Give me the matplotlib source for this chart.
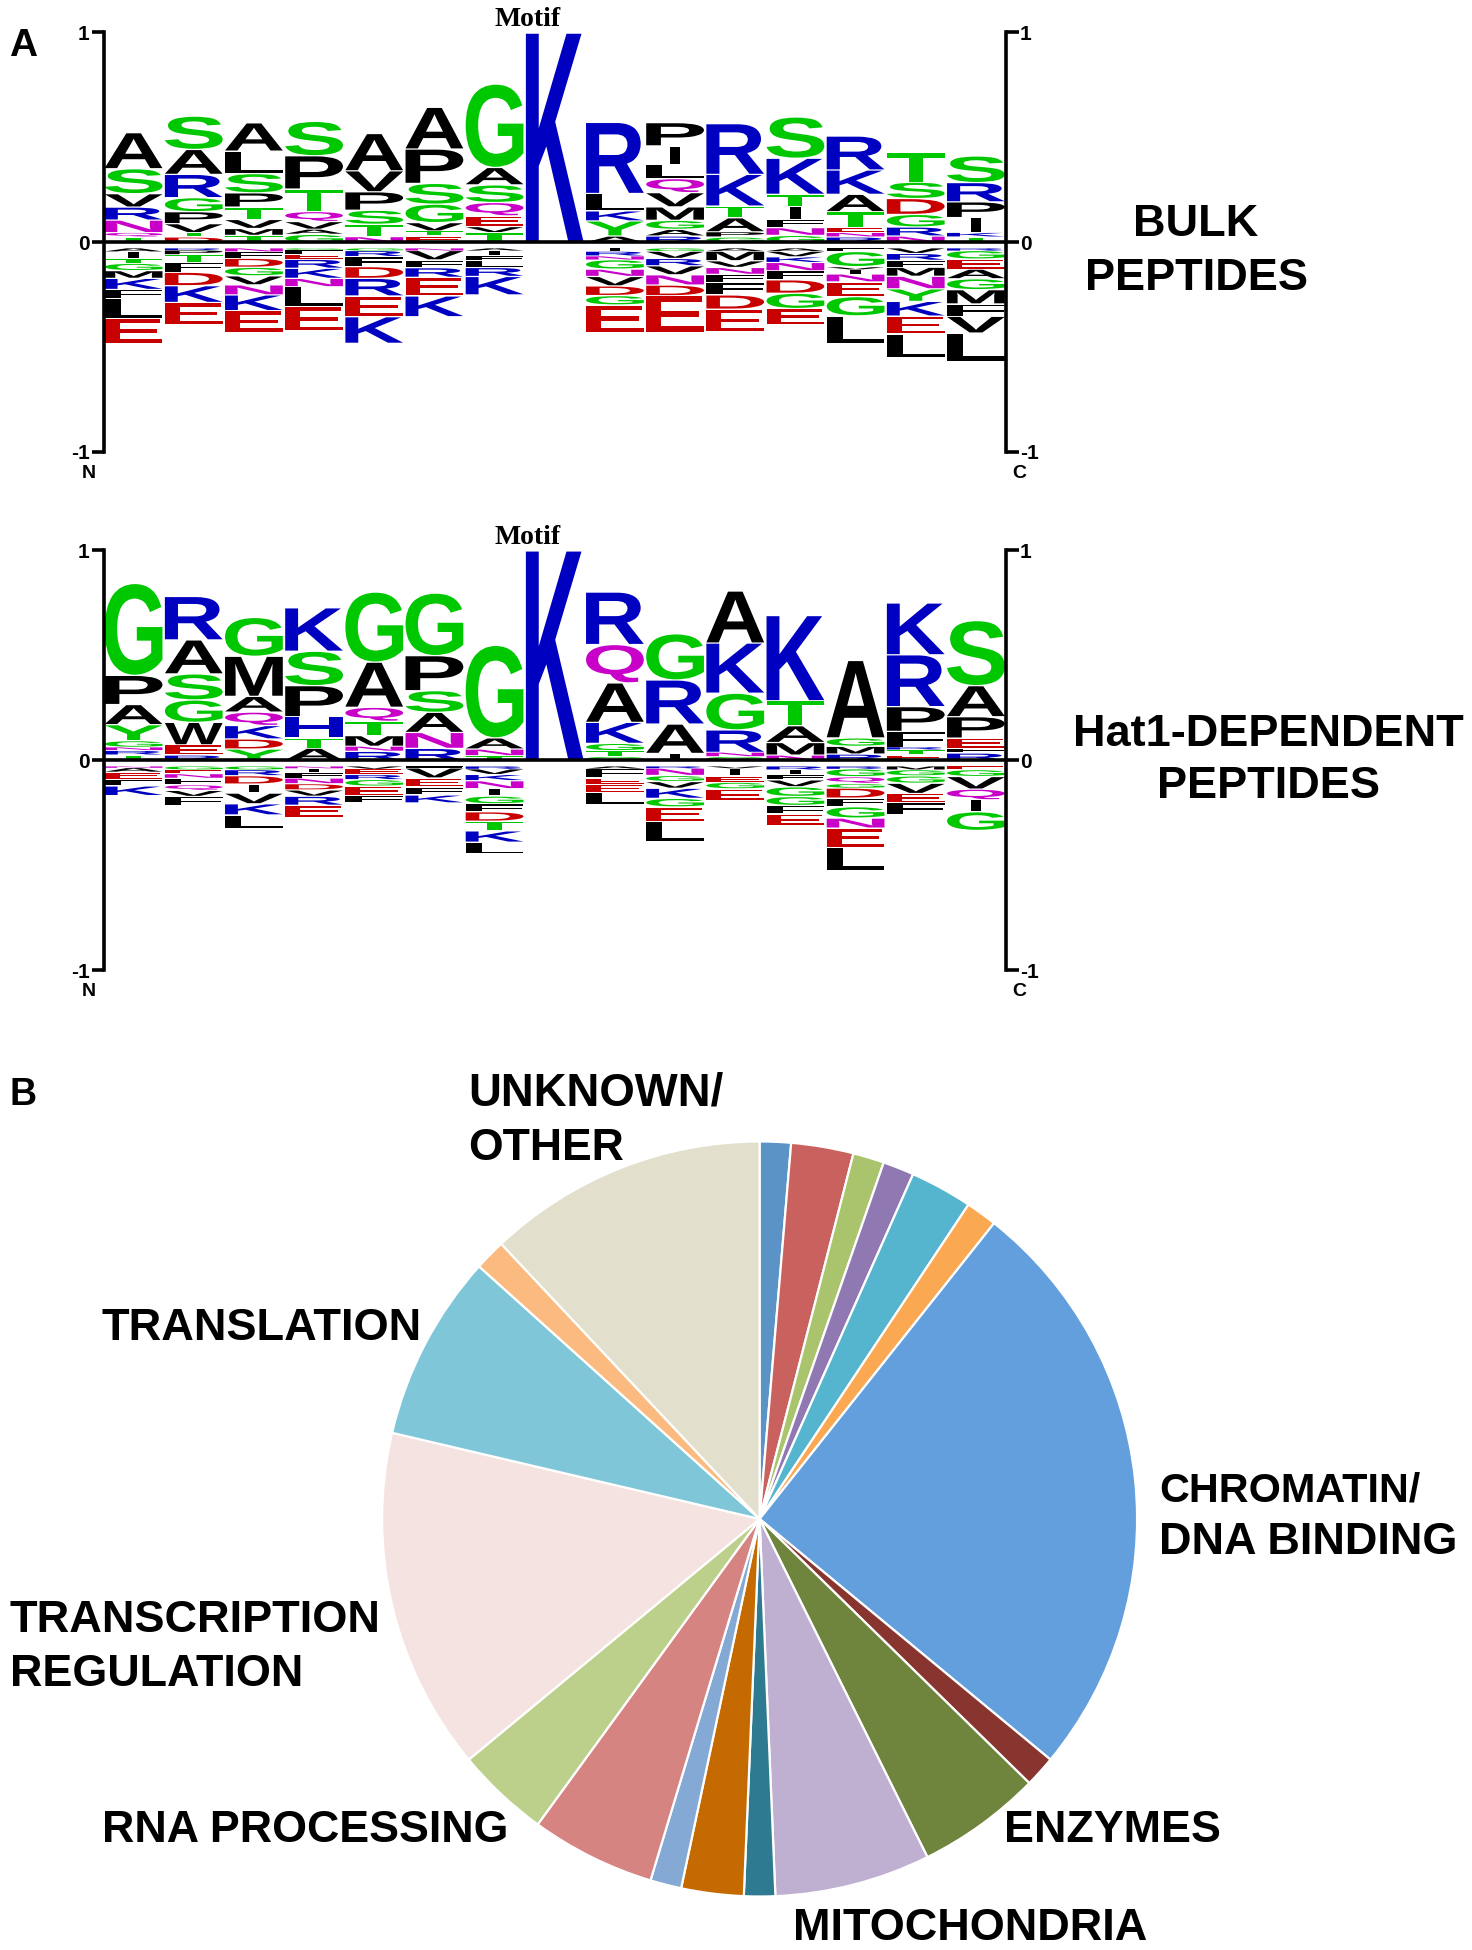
import matplotlib
matplotlib.use('Agg')
import matplotlib.pyplot as plt
from matplotlib.font_manager import FontProperties
from matplotlib.patches import PathPatch
from matplotlib.textpath import TextPath
from matplotlib.transforms import Affine2D

W, H = 1472, 1950

# Logo data: one string per position, letters listed from the zero line outwards.
# Heights are thousandths of the axis unit.
bulk_up_letters = ["TQNRVSA", "DTVPGRAS", "TMVTPSLA", "GAVQTPS", "NTSPVA", "ETVGSPA", "TVEQSAG", "K",
                   "AYKLR", "RAGMVQLIP", "GPATKR", "GNFITKS", "RNETAKR", "NRGDST", "TKIPRS"]
bulk_up_heights = [[27, 21, 60, 62, 64, 119, 172], [27, 21, 43, 57, 67, 111, 119, 159],
                   [35, 33, 43, 59, 68, 92, 107, 135], [40, 24, 37, 48, 107, 159, 164],
                   [29, 59, 67, 88, 100, 178], [32, 24, 40, 88, 99, 164, 199],
                   [48, 29, 51, 64, 84, 83, 398], [1000],
                   [32, 72, 48, 83, 339], [32, 32, 43, 64, 68, 67, 68, 88, 111],
                   [27, 25, 67, 56, 151, 242], [35, 37, 40, 60, 59, 172, 197],
                   [27, 21, 24, 76, 83, 116, 162], [32, 43, 60, 76, 78, 140],
                   [27, 21, 72, 75, 92, 127]]
bulk_down_letters = ["AITGMKFLE", "RPTFDKE", "NFDGVNKE", "GFERKNLE", "GRFDREK", "NVFREK", "AIFLRK", "",
                     "IRNGNVDGE", "GVRVNDE", "AMVNFFDE", "AVKNFDGE", "FGVINEGL", "VRFMNYKEL", "RGEAGMFVL"]
bulk_down_heights = [[18, 32, 24, 35, 37, 53, 43, 96, 119], [10, 22, 37, 48, 64, 80, 107],
                     [18, 32, 43, 41, 43, 48, 75, 103], [8, 22, 25, 43, 48, 40, 96, 115],
                     [13, 29, 48, 56, 84, 99, 127], [13, 45, 37, 46, 89, 99],
                     [13, 24, 24, 33, 43, 88], [],
                     [16, 22, 19, 45, 35, 45, 46, 45, 131], [16, 35, 35, 43, 49, 51, 174],
                     [16, 46, 32, 33, 38, 60, 68, 108], [16, 27, 27, 40, 43, 64, 73, 78],
                     [18, 72, 13, 22, 38, 70, 92, 134], [27, 33, 33, 43, 60, 60, 70, 86, 113],
                     [13, 41, 48, 46, 52, 68, 59, 80, 135]]

hat1_up_letters = ["TRNGYAPG", "REWGSAR", "YDKQAMG", "ATHPSK", "RNMTQAG", "RNASPG", "TNAG", "K",
                   "GTGKAQR", "IARG", "GNRGKA", "NMATK", "RMGA", "ETRFPRK", "RFEPAS"]
hat1_up_heights = [[27, 21, 16, 32, 76, 96, 139, 438], [27, 49, 107, 107, 124, 162, 207],
                   [56, 48, 64, 64, 75, 191, 185], [60, 48, 102, 148, 164, 207],
                   [45, 24, 51, 68, 67, 215, 334], [59, 76, 96, 103, 167, 298],
                   [24, 32, 53, 441], [1000],
                   [19, 29, 35, 100, 188, 183, 250], [35, 140, 210, 220],
                   [19, 21, 107, 175, 239, 248], [27, 60, 80, 119, 406],
                   [32, 37, 40, 369], [27, 24, 13, 76, 118, 247, 247],
                   [37, 22, 49, 102, 148, 310]]
hat1_down_letters = ["NAEFK", "GENFQVF", "GRDIVKL", "NIFNDVRE", "VERGEF", "FVEFK", "RVKNIGFDTKL", "",
                     "AFEEL", "RNGVKGEL", "VIEGE", "RIFVGGFE", "RGQGDFGNEL", "MGGVEF", "EGVQIG"]
hat1_down_heights = [[8, 21, 37, 30, 46], [18, 19, 21, 32, 27, 29, 43], [18, 29, 40, 43, 51, 53, 64],
                     [11, 22, 25, 27, 30, 30, 43, 59], [14, 27, 24, 32, 45, 32],
                     [10, 48, 43, 38, 38], [14, 27, 30, 38, 35, 37, 38, 45, 46, 54, 56], [],
                     [13, 45, 32, 37, 56], [11, 35, 29, 32, 48, 41, 70, 94], [11, 38, 29, 32, 57],
                     [18, 24, 25, 33, 46, 43, 41, 54], [14, 38, 32, 22, 48, 41, 54, 48, 91, 111],
                     [18, 30, 35, 49, 43, 57], [18, 33, 60, 51, 57, 89]]

# Pie data, clockwise from 12 o'clock
pie_counts = [1, 2, 1, 1, 2, 1, 19, 1, 4, 5, 1, 2, 1, 4, 3, 11, 6, 1, 9]
pie_colors = ['#5B93C7', '#C9625E', '#A9C46C', '#9079B3', '#55B5CF', '#FAA952', '#639FDD', '#883530',
              '#6F843C', '#BFB0D2', '#2E7A91', '#C46A00', '#84A9D4', '#D68482', '#BCD08C', '#F5E3E1',
              '#7FC6D9', '#FBBB80', '#E2DFCC']

letter_colors = {'G': '#00C800', 'S': '#00C800', 'T': '#00C800', 'Y': '#00C800',
                 'K': '#0000C0', 'R': '#0000C0', 'H': '#0000C0',
                 'N': '#C800C8', 'Q': '#C800C8',
                 'D': '#C80000', 'E': '#C80000'}

logo_font = FontProperties(family='Liberation Sans', weight='bold')
fig = plt.figure(figsize=(W / 100, H / 100), dpi=100)


def fx(x):
    return x / W


def fy(y):
    return 1 - y / H


def label(x, y, s, size, ha='left', family='Liberation Sans'):
    fig.text(fx(x), fy(y), s, fontsize=size, ha=ha, va='center', family=family, weight='bold', color='black')


def draw_letter(ax, ch, pos, y0, y1):
    # stretch the glyph so it fills its slot
    path = TextPath((0, 0), ch, size=1, prop=logo_font)
    box = path.get_extents()
    width = 0.17 if ch == 'I' else 0.96
    tr = Affine2D().translate(-box.x0, -box.y0).scale(width / box.width, (y1 - y0) / box.height)
    tr = tr.translate(pos + (1 - width) / 2, y0)
    ax.add_patch(PathPatch(path.transformed(tr), fc=letter_colors.get(ch, 'black'), lw=0))


def draw_logo(top, zero, bottom, up_letters, up_heights, down_letters, down_heights):
    ax = fig.add_axes([fx(103.5), fy(bottom), fx(1006 - 103.5), (bottom - top) / H])
    ax.set_xlim(0, 15)
    ax.set_ylim(-1, 1)
    ax.patch.set_alpha(0)
    for i in range(15):
        y = 0
        for ch, h in zip(up_letters[i], up_heights[i]):
            draw_letter(ax, ch, i, y, y + h / 1000 - min(0.006, h / 5000))
            y += h / 1000
        y = -0.03
        for ch, h in zip(down_letters[i], down_heights[i]):
            draw_letter(ax, ch, i, y - h / 1000 + min(0.006, h / 5000), y)
            y -= h / 1000
    ax.axhline(0, color='black', lw=2.6, zorder=5)
    for s in ['top', 'bottom']:
        ax.spines[s].set_visible(False)
    for s in ['left', 'right']:
        ax.spines[s].set_linewidth(2.6)
    ax.set_xticks([])
    ax.set_yticks([-1, 0, 1])
    ax.set_yticklabels(['-1', '0', '1'], fontsize=15, fontweight='bold', family='Liberation Sans')
    ax.tick_params(axis='y', left=True, right=True, labelleft=True, labelright=True,
                   length=9, width=2.6, pad=1)
    label(88.5, bottom + 22, 'N', 14, ha='center')
    label(1019, bottom + 22, 'C', 14, ha='center')
    label(528, top - 13, 'Motif', 20, ha='center', family='Liberation Serif')


draw_logo(32.5, 241.7, 451.7, bulk_up_letters, bulk_up_heights, bulk_down_letters, bulk_down_heights)
draw_logo(550.3, 760, 970, hat1_up_letters, hat1_up_heights, hat1_down_letters, hat1_down_heights)

# Pie
cx, cy, r = 759.6, 1519, 377.5
ax2 = fig.add_axes([fx(cx - r), fy(cy + r), 2 * r / W, 2 * r / H])
ax2.pie(pie_counts, colors=pie_colors, startangle=90, counterclock=False,
        wedgeprops={'edgecolor': 'white', 'linewidth': 1.6})
ax2.set_xlim(-1, 1)
ax2.set_ylim(-1, 1)

# Panel letters and side labels
label(9, 46, 'A', 28)
label(10, 1095, 'B', 27)
label(1196, 224, 'BULK', 32.5, ha='center')
label(1196, 279, 'PEPTIDES', 32.5, ha='center')
label(1268, 734, 'Hat1-DEPENDENT', 32.5, ha='center')
label(1268, 787, 'PEPTIDES', 32.5, ha='center')
label(468, 1094, 'UNKNOWN/', 32.8)
label(468, 1148, 'OTHER', 32)
label(102, 1328, 'TRANSLATION', 32.5)
label(10, 1620, 'TRANSCRIPTION', 32.5)
label(10, 1674, 'REGULATION', 32.3)
label(102, 1830, 'RNA PROCESSING', 32.2)
label(1159, 1490, 'CHROMATIN/', 29.8)
label(1159, 1543, 'DNA BINDING', 32.4)
label(1004, 1830, 'ENZYMES', 32.3)
label(793, 1928, 'MITOCHONDRIA', 32.4)

fig.savefig('out.png', dpi=100)
